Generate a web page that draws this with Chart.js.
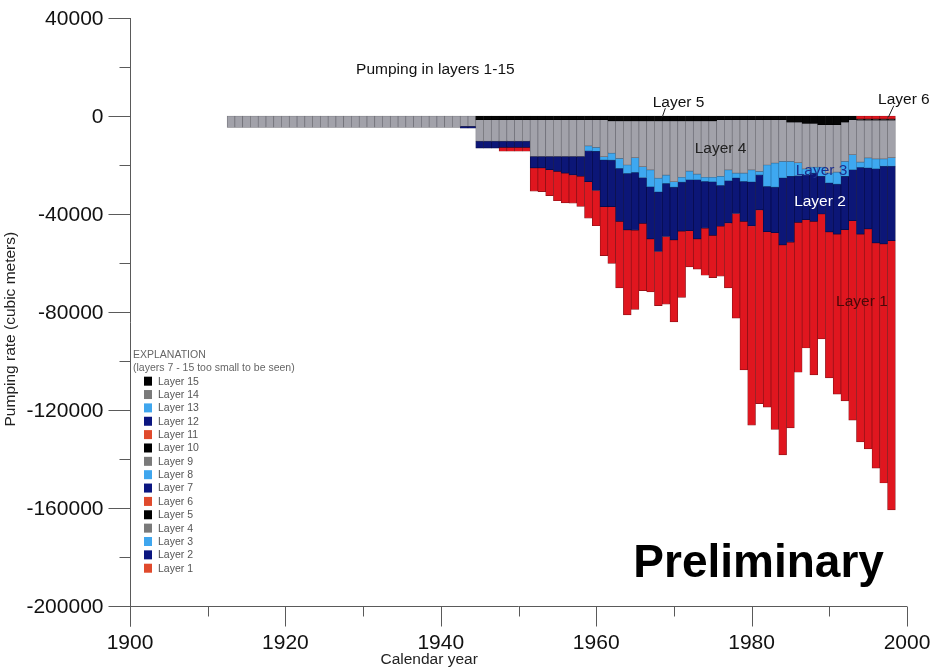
<!DOCTYPE html>
<html><head><meta charset="utf-8">
<script src="https://cdn.jsdelivr.net/npm/chart.js@4.4.0/dist/chart.umd.min.js"></script>
<style>html,body{margin:0;padding:0;background:#fff;}#wrap{width:933px;height:668px;position:relative;}</style>
</head><body><div id="wrap"><canvas id="c" width="933" height="668"></canvas></div>
<script>
// ---------- data ----------
const years = [1913,1914,1915,1916,1917,1918,1919,1920,1921,1922,1923,1924,1925,1926,1927,1928,1929,1930,1931,1932,1933,1934,1935,1936,1937,1938,1939,1940,1941,1942,1943,1944,1945,1946,1947,1948,1949,1950,1951,1952,1953,1954,1955,1956,1957,1958,1959,1960,1961,1962,1963,1964,1965,1966,1967,1968,1969,1970,1971,1972,1973,1974,1975,1976,1977,1978,1979,1980,1981,1982,1983,1984,1985,1986,1987,1988,1989,1990,1991,1992,1993,1994,1995,1996,1997,1998];

const layer1 = [0,0,0,0,0,0,0,0,0,0,0,0,0,0,0,0,0,0,0,0,0,0,0,0,0,0,0,0,0,0,0,0,0,0,0,-1600,-1600,-1600,-1600,-9500,-9700,-10600,-12000,-12200,-11600,-12300,-14900,-14400,-20000,-23200,-27200,-34700,-32300,-27500,-21600,-22100,-27600,-33400,-27000,-14800,-12300,-19200,-17300,-20400,-26600,-42700,-60600,-81400,-79100,-71600,-80300,-85700,-75800,-61200,-52400,-62700,-51000,-59600,-65300,-69900,-81400,-84800,-89800,-91900,-97600,-109900];
const layer2 = [0,0,0,0,0,0,0,0,0,0,0,0,0,0,0,0,0,0,0,0,0,0,0,0,0,0,0,0,0,0,-800,-800,-2800,-2800,-2800,-2500,-2500,-2500,-2500,-4700,-4700,-5400,-6100,-6800,-7500,-8100,-12600,-16000,-19100,-19000,-21600,-23100,-23600,-18700,-21400,-24300,-21700,-21600,-20000,-20800,-24200,-19100,-21900,-16700,-17200,-14500,-16300,-17900,-14300,-18500,-18600,-27300,-26900,-19100,-18300,-19700,-15400,-20000,-20400,-21800,-20800,-27200,-24900,-30300,-31700,-30400];
const layer3 = [0,0,0,0,0,0,0,0,0,0,0,0,0,0,0,0,0,0,0,0,0,0,0,0,0,0,0,0,0,0,0,0,0,0,0,0,0,0,0,0,0,0,0,0,0,0,-2000,-1600,-1300,-2800,-4100,-3400,-6000,-4400,-6800,-5600,-3400,-2200,-2000,-3500,-2300,-1700,-1800,-3700,-4400,-2000,-3400,-4900,-1400,-8700,-9800,-6800,-6100,-5300,-2400,-2400,-3700,-4000,-4900,-6100,-6100,-2200,-4100,-4000,-3000,-3500];
const layer4 = [-4700,-4700,-4700,-4700,-4700,-4700,-4700,-4700,-4700,-4700,-4700,-4700,-4700,-4700,-4700,-4700,-4700,-4700,-4700,-4700,-4700,-4700,-4700,-4700,-4700,-4700,-4700,-4700,-4700,-4700,-4200,-4200,-8800,-8800,-8800,-8800,-8800,-8800,-8800,-15000,-15000,-15000,-15000,-15000,-15000,-15000,-10700,-11300,-15100,-13200,-15300,-18000,-15000,-18700,-20000,-23400,-22100,-24800,-23000,-20500,-21700,-23000,-23000,-23100,-20500,-21800,-21800,-20500,-21100,-18500,-17700,-17000,-16000,-16500,-18600,-17900,-17400,-19800,-19400,-16000,-14300,-17100,-15400,-15800,-15800,-15300];
const layer5 = [0,0,0,0,0,0,0,0,0,0,0,0,0,0,0,0,0,0,0,0,0,0,0,0,0,0,0,0,0,0,0,0,-1500,-1500,-1500,-1500,-1500,-1500,-1500,-1500,-1500,-1500,-1500,-1500,-1500,-1500,-1500,-1500,-1500,-2000,-2000,-2000,-2000,-2000,-2000,-2000,-2000,-2000,-2000,-2000,-2000,-2000,-2000,-1500,-1500,-1500,-1500,-1500,-1500,-1500,-1500,-1500,-2500,-2500,-3000,-3000,-3500,-3500,-3500,-2500,-1500,-500,-500,-500,-500,-500];
const layer6 = [0,0,0,0,0,0,0,0,0,0,0,0,0,0,0,0,0,0,0,0,0,0,0,0,0,0,0,0,0,0,0,0,0,0,0,0,0,0,0,0,0,0,0,0,0,0,0,0,0,0,0,0,0,0,0,0,0,0,0,0,0,0,0,0,0,0,0,0,0,0,0,0,0,0,0,0,0,0,0,0,0,-1200,-1200,-1200,-1200,-1200];

const layerNames = ['Layer 15','Layer 14','Layer 13','Layer 12','Layer 11','Layer 10','Layer 9','Layer 8','Layer 7','Layer 6','Layer 5','Layer 4','Layer 3','Layer 2','Layer 1'];
const yMajorTicks = [40000,0,-40000,-80000,-120000,-160000,-200000];
const yMinorTicks = [20000,-20000,-60000,-100000,-140000,-180000];
const xMajorTicks = [1900,1920,1940,1960,1980,2000];
const xMinorTicks = [1910,1930,1950,1970,1990];

// ---------- styles ----------
const FONT = '"Liberation Sans", Arial, Helvetica, sans-serif';
const RED = '#e0161f', NAVY = '#0c1677', LBLUE = '#3ea8f0', GREY = '#a2a2aa', BLACK = '#050505';
const fill = {1:RED,2:NAVY,3:LBLUE,4:GREY,5:BLACK,6:RED,7:NAVY,8:LBLUE,9:GREY,10:BLACK,11:RED,12:NAVY,13:LBLUE,14:GREY,15:BLACK};
const edge = {1:'#861016',2:'#060a45',3:'#2a78b0',4:'#6c6c74',5:'#000',6:'#861016',7:'#060a45',8:'#2a78b0',9:'#6c6c74',10:'#000',11:'#861016',12:'#060a45',13:'#2a78b0',14:'#6c6c74',15:'#000'};
const swatch = {1:'#e04a2c',2:'#0b1680',3:'#3fa6ee',4:'#7a7a7a',5:'#000000'};
const series = {1:layer1,2:layer2,3:layer3,4:layer4,5:layer5,6:layer6};

const datasets = layerNames.map(name => {
  const n = parseInt(name.split(' ')[1], 10);
  const vals = series[n] || [];
  return {
    label: name,
    data: vals.map((v, i) => ({x: years[i], y: v})),
    backgroundColor: fill[n],
    borderColor: edge[n],
    borderWidth: 0.7,
    borderSkipped: false,
    barPercentage: 1.0,
    categoryPercentage: 1.0,
    swatchColor: swatch[((n - 1) % 5) + 1]
  };
});

// ---------- custom drawing (axes, labels, legend, notes) ----------
const decor = {
  id: 'decor',
  afterDraw(chart) {
    const {ctx, scales: {x, y}} = chart;
    const X = v => x.getPixelForValue(v), Y = v => y.getPixelForValue(v);
    ctx.save();
    ctx.strokeStyle = '#5a5a5a';
    ctx.lineWidth = 1;
    const ax = Math.round(X(1900)) + 0.5;
    const ay = Math.round(Y(-200000)) + 0.5;
    // axis lines
    ctx.beginPath();
    ctx.moveTo(ax, Y(40000)); ctx.lineTo(ax, ay + 20);
    ctx.moveTo(ax, ay); ctx.lineTo(X(2000), ay);
    // y ticks
    yMajorTicks.forEach(v => { const p = Math.round(Y(v)) + 0.5; ctx.moveTo(ax - 22, p); ctx.lineTo(ax, p); });
    yMinorTicks.forEach(v => { const p = Math.round(Y(v)) + 0.5; ctx.moveTo(ax - 11, p); ctx.lineTo(ax, p); });
    // x ticks
    xMajorTicks.forEach(v => { const p = Math.round(X(v)) + 0.5; ctx.moveTo(p, ay); ctx.lineTo(p, ay + 20); });
    xMinorTicks.forEach(v => { const p = Math.round(X(v)) + 0.5; ctx.moveTo(p, ay); ctx.lineTo(p, ay + 10); });
    ctx.stroke();

    // tick labels
    ctx.fillStyle = '#111';
    ctx.font = '21px ' + FONT;
    ctx.textAlign = 'right'; ctx.textBaseline = 'middle';
    yMajorTicks.forEach(v => ctx.fillText(String(v), ax - 27, Y(v) + 1));
    ctx.textAlign = 'center';
    xMajorTicks.forEach(v => ctx.fillText(String(v), X(v), ay + 37));

    // axis titles
    ctx.font = '15.5px ' + FONT;
    ctx.fillStyle = '#222';
    ctx.fillText('Calendar year', X(1938.5), ay + 53);
    ctx.save();
    ctx.translate(11, Y(-87000));
    ctx.rotate(-Math.PI / 2);
    ctx.fillText('Pumping rate (cubic meters)', 0, 0);
    ctx.restore();

    // chart notes
    ctx.font = '15.5px ' + FONT;
    ctx.fillStyle = '#111';
    ctx.fillText('Pumping in layers 1-15', X(1939.3), Y(18900));
    ctx.fillText('Layer 5', X(1970.6), Y(5600));
    ctx.fillText('Layer 6', X(1999.6), Y(6600));
    ctx.fillStyle = '#222';
    ctx.fillText('Layer 4', X(1976.0), Y(-13200));
    ctx.fillStyle = '#1d2f8c';
    ctx.fillText('Layer 3', X(1989.0), Y(-22200));
    ctx.fillStyle = '#ffffff';
    ctx.fillText('Layer 2', X(1988.8), Y(-34800));
    ctx.fillStyle = '#4a0808';
    ctx.fillText('Layer 1', X(1994.2), Y(-76000));
    ctx.strokeStyle = '#222';
    ctx.beginPath();
    ctx.moveTo(X(1968.9), Y(3200)); ctx.lineTo(X(1968.5), Y(-500));
    ctx.moveTo(X(1998.3), Y(4200)); ctx.lineTo(X(1997.6), Y(-500));
    ctx.stroke();

    ctx.font = 'bold 46px ' + FONT;
    ctx.fillStyle = '#000';
    ctx.fillText('Preliminary', X(1980.9), Y(-183000));

    // legend
    const lx = X(1900) + 3, ly = Y(-97500);
    ctx.textAlign = 'left';
    ctx.fillStyle = '#666';
    ctx.font = '10.5px ' + FONT;
    ctx.fillText('EXPLANATION', lx, ly);
    ctx.fillText('(layers 7 - 15 too small to be seen)', lx, ly + 13);
    chart.data.datasets.forEach((ds, i) => {
      const ry = ly + 26.3 + i * 13.36;
      ctx.fillStyle = ds.swatchColor;
      ctx.fillRect(lx + 11, ry - 4.5, 8, 9);
      ctx.fillStyle = '#555';
      ctx.fillText(ds.label, lx + 25, ry + 0.5);
    });
    ctx.restore();
  }
};

new Chart(document.getElementById('c'), {
  type: 'bar',
  data: {datasets},
  options: {
    responsive: false,
    animation: false,
    devicePixelRatio: 1,
    layout: {padding: {left: 0, right: 26, top: 18, bottom: 0}},
    plugins: {legend: {display: false}, tooltip: {enabled: false}},
    scales: {
      x: {type: 'linear', min: 1900, max: 2000, stacked: true, offset: false,
          grid: {display: false, drawTicks: false}, border: {display: false},
          ticks: {display: false}, afterFit: s => { s.height = 62; }},
      y: {type: 'linear', min: -200000, max: 40000, stacked: true,
          grid: {display: false, drawTicks: false}, border: {display: false},
          ticks: {display: false}, afterFit: s => { s.width = 130; }}
    }
  },
  plugins: [decor]
});
</script>
</body></html>
